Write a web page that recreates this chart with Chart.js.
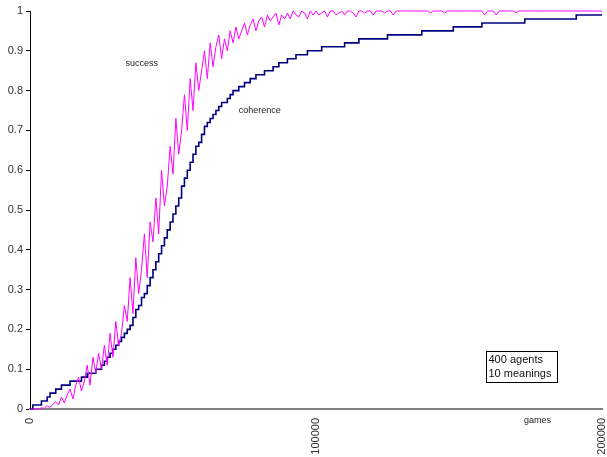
<!DOCTYPE html>
<html>
<head>
<meta charset="UTF-8">
<title>success / coherence</title>
<script src="https://cdn.jsdelivr.net/npm/chart.js"></script>
<style>
  body { margin: 0; background: #fff; }
  #wrap { position: relative; width: 607px; height: 457px; }
</style>
</head>
<body>
<div id="wrap"><canvas id="chart"></canvas></div>
<script>
// sampled every 1000 games, from 0 to 200000
const gameStep = 1000;
const games = [];
for (let g = 0; g <= 200000; g += gameStep) games.push(g);

const success = [
  0, 0, 0, 0, 0.003, 0.002, 0.008, 0.004, 0.012, 0.018,
  0.01, 0.03, 0.015, 0.035, 0.05, 0.025, 0.06, 0.08, 0.045, 0.07,
  0.11, 0.06, 0.13, 0.09, 0.14, 0.1, 0.16, 0.11, 0.19, 0.13,
  0.22, 0.16, 0.19, 0.26, 0.22, 0.33, 0.24, 0.38, 0.29, 0.35,
  0.44, 0.33, 0.47, 0.42, 0.53, 0.44, 0.6, 0.51, 0.56, 0.66,
  0.59, 0.73, 0.64, 0.7, 0.79, 0.7, 0.83, 0.75, 0.87, 0.8,
  0.85, 0.9, 0.83, 0.92, 0.86, 0.91, 0.94, 0.88, 0.93, 0.9,
  0.95, 0.92, 0.96, 0.93, 0.95, 0.97, 0.94, 0.965, 0.98, 0.95,
  0.975, 0.985, 0.96, 0.99, 0.975, 0.985, 0.995, 0.965, 0.99, 0.98,
  0.995, 0.98, 1, 0.99, 0.985, 1, 0.995, 0.98, 1, 0.99,
  1, 0.99, 0.995, 1, 0.985, 1, 1, 0.99, 0.995, 1,
  0.99, 1, 1, 0.995, 0.985, 1, 1, 0.995, 1, 1,
  0.99, 1, 1, 1, 0.995, 1, 1, 0.99, 1, 1,
  1, 1, 1, 1, 1, 1, 1, 1, 1, 1,
  0.995, 1, 1, 1, 1, 0.995, 1, 1, 1, 1,
  1, 1, 1, 1, 1, 1, 1, 1, 1, 0.99,
  1, 1, 1, 0.99, 1, 1, 1, 1, 1, 1,
  0.995, 1, 1, 1, 1, 1, 1, 1, 1, 1,
  1, 1, 1, 1, 1, 1, 1, 1, 1, 1,
  1, 1, 1, 1, 1, 1, 1, 1, 1, 1,
  1
];

const coherence = [
  0, 0.01, 0.01, 0.01, 0.02, 0.02, 0.03, 0.04, 0.04, 0.05,
  0.05, 0.06, 0.06, 0.06, 0.07, 0.07, 0.07, 0.07, 0.08, 0.08,
  0.09, 0.09, 0.09, 0.10, 0.10, 0.11, 0.12, 0.13, 0.14, 0.15,
  0.16, 0.17, 0.18, 0.19, 0.20, 0.21, 0.23, 0.25, 0.26, 0.28,
  0.29, 0.31, 0.33, 0.35, 0.37, 0.39, 0.41, 0.43, 0.45, 0.47,
  0.49, 0.51, 0.53, 0.56, 0.58, 0.60, 0.62, 0.64, 0.66, 0.67,
  0.69, 0.71, 0.72, 0.73, 0.74, 0.75, 0.76, 0.77, 0.77, 0.78,
  0.79, 0.80, 0.80, 0.81, 0.81, 0.82, 0.82, 0.83, 0.83, 0.84,
  0.84, 0.84, 0.85, 0.85, 0.85, 0.86, 0.86, 0.87, 0.87, 0.87,
  0.88, 0.88, 0.88, 0.89, 0.89, 0.89, 0.89, 0.90, 0.90, 0.90,
  0.90, 0.90, 0.91, 0.91, 0.91, 0.91, 0.91, 0.91, 0.91, 0.91,
  0.92, 0.92, 0.92, 0.92, 0.92, 0.93, 0.93, 0.93, 0.93, 0.93,
  0.93, 0.93, 0.93, 0.93, 0.93, 0.94, 0.94, 0.94, 0.94, 0.94,
  0.94, 0.94, 0.94, 0.94, 0.94, 0.94, 0.94, 0.95, 0.95, 0.95,
  0.95, 0.95, 0.95, 0.95, 0.95, 0.95, 0.95, 0.95, 0.96, 0.96,
  0.96, 0.96, 0.96, 0.96, 0.96, 0.96, 0.96, 0.96, 0.97, 0.97,
  0.97, 0.97, 0.97, 0.97, 0.97, 0.97, 0.97, 0.97, 0.97, 0.97,
  0.97, 0.97, 0.97, 0.98, 0.98, 0.98, 0.98, 0.98, 0.98, 0.98,
  0.98, 0.98, 0.98, 0.98, 0.98, 0.98, 0.98, 0.98, 0.98, 0.98,
  0.98, 0.99, 0.99, 0.99, 0.99, 0.99, 0.99, 0.99, 0.99, 0.99,
  0.99
];

const xTicks = [0, 100000, 200000];

// text notes placed in data units
const notes = [
  { text: 'success', x: 33400, y: 0.867 },
  { text: 'coherence', x: 73000, y: 0.751 }
];
const boxLines = ['400 agents', '10 meanings'];
const boxArea = { x0: 159400, x1: 184300, y0: 0.0678, y1: 0.1457 };

const notesPlugin = {
  id: 'notes',
  afterDraw(chart) {
    const ctx = chart.ctx;
    const xs = chart.scales.x, ys = chart.scales.y;
    ctx.save();
    ctx.fillStyle = '#222';
    ctx.textBaseline = 'middle';
    ctx.textAlign = 'left';
    ctx.font = '9px "Liberation Sans", Arial, sans-serif';
    notes.forEach(n => ctx.fillText(n.text, xs.getPixelForValue(n.x), ys.getPixelForValue(n.y)));
    // axis title under the axis, near the right end
    ctx.fillText('games', xs.getPixelForValue(172700), chart.chartArea.bottom + 12);

    // info box
    const bx0 = Math.round(xs.getPixelForValue(boxArea.x0)) + 0.5;
    const bx1 = Math.round(xs.getPixelForValue(boxArea.x1)) + 0.5;
    const by0 = Math.round(ys.getPixelForValue(boxArea.y1)) + 0.5;
    const by1 = Math.round(ys.getPixelForValue(boxArea.y0)) + 0.5;
    ctx.fillStyle = '#fff';
    ctx.fillRect(bx0, by0, bx1 - bx0, by1 - by0);
    ctx.strokeStyle = '#000';
    ctx.lineWidth = 1;
    ctx.strokeRect(bx0, by0, bx1 - bx0, by1 - by0);
    ctx.fillStyle = '#111';
    ctx.font = '11px "Liberation Sans", Arial, sans-serif';
    boxLines.forEach((t, i) => ctx.fillText(t, bx0 + 2, by0 + 8 + i * 14));
    ctx.restore();
  }
};

new Chart(document.getElementById('chart'), {
  type: 'line',
  data: {
    labels: games,
    datasets: [
      {
        label: 'success',
        data: success,
        borderColor: '#ff00ff',
        borderWidth: 1,
        pointRadius: 0,
        tension: 0,
        clip: 4
      },
      {
        label: 'coherence',
        data: coherence,
        borderColor: '#000080',
        borderWidth: 1.6,
        pointRadius: 0,
        stepped: true,
        clip: 4
      }
    ]
  },
  options: {
    responsive: true,
    maintainAspectRatio: false,
    animation: false,
    layout: { padding: { top: 11, right: 5, left: 0, bottom: 0 } },
    plugins: {
      legend: { display: false },
      tooltip: { enabled: false }
    },
    scales: {
      x: {
        type: 'linear',
        min: 0,
        max: 200000,
        afterBuildTicks: s => { s.ticks = xTicks.map(v => ({ value: v })); },
        afterFit: s => { s.height = 48; s.paddingLeft = 0; s.paddingRight = 0; },
        grid: { display: false },
        border: { display: true, color: '#808080', width: 2 },
        ticks: {
          maxRotation: 90,
          minRotation: 90,
          padding: 1,
          color: '#333',
          font: { family: '"Liberation Sans", Arial, sans-serif', size: 11 },
          callback: v => String(v)
        }
      },
      y: {
        min: 0,
        max: 1,
        afterFit: s => { s.width = 30; s.paddingTop = 0; s.paddingBottom = 0; },
        grid: { display: true, drawOnChartArea: false, drawTicks: true, tickLength: 4, color: '#000' },
        border: { display: true, color: '#000', width: 1 },
        ticks: {
          stepSize: 0.1,
          padding: 3,
          color: '#333',
          font: { family: '"Liberation Sans", Arial, sans-serif', size: 11 },
          callback: v => String(Math.round(v * 10) / 10)
        }
      }
    }
  },
  plugins: [notesPlugin]
});
</script>
</body>
</html>
